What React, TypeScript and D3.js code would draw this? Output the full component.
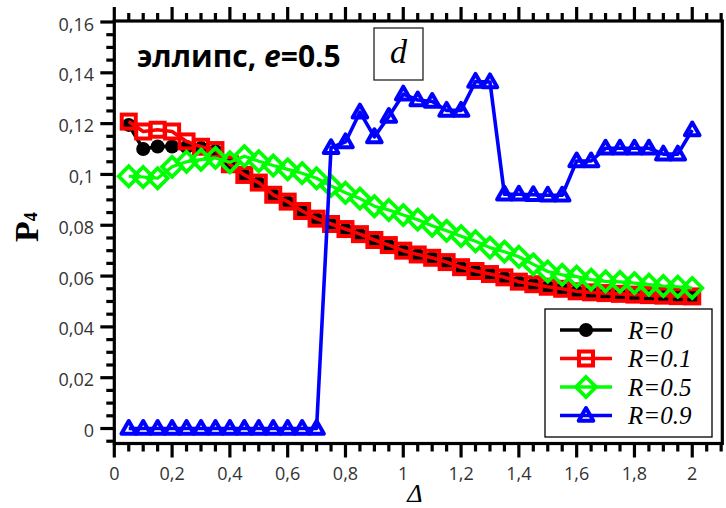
import React from "react";
import * as d3 from "d3";

const deltas = [0.05, 0.1, 0.15, 0.2, 0.25, 0.3, 0.35, 0.4, 0.45, 0.5, 0.55, 0.6, 0.65, 0.7, 0.75, 0.8, 0.85, 0.9, 0.95, 1.0,
  1.05, 1.1, 1.15, 1.2, 1.25, 1.3, 1.35, 1.4, 1.45, 1.5, 1.55, 1.6, 1.65, 1.7, 1.75, 1.8, 1.85, 1.9, 1.95, 2.0];

const r0 = [0.1195, 0.1100, 0.1110, 0.1110, 0.1108, 0.1104, 0.1092, 0.1037, 0.0996, 0.0966, 0.0918, 0.0891, 0.0854, 0.0824, 0.0803, 0.0783,
  0.0763, 0.0740, 0.0720, 0.0698, 0.0683, 0.0670, 0.0653, 0.0633, 0.0618, 0.0606, 0.0593, 0.0576, 0.0566, 0.0556, 0.0548, 0.0538,
  0.0534, 0.0530, 0.0527, 0.0524, 0.0522, 0.0520, 0.0519, 0.0518];

const r01 = [0.1208, 0.1169, 0.1176, 0.1169, 0.1130, 0.1109, 0.1096, 0.1040, 0.0998, 0.0968, 0.0920, 0.0893, 0.0856, 0.0826, 0.0805, 0.0785,
  0.0765, 0.0742, 0.0722, 0.0700, 0.0685, 0.0672, 0.0655, 0.0635, 0.0620, 0.0608, 0.0595, 0.0578, 0.0568, 0.0558, 0.0550, 0.0540,
  0.0536, 0.0533, 0.0530, 0.0527, 0.0525, 0.0523, 0.0521, 0.0520];

const r05 = [0.0993, 0.0990, 0.0985, 0.1030, 0.1050, 0.1058, 0.1065, 0.1048, 0.1072, 0.1052, 0.1035, 0.1020, 0.1005, 0.0985, 0.0955, 0.0928,
  0.0905, 0.0875, 0.0860, 0.0840, 0.0822, 0.0798, 0.0778, 0.0757, 0.0737, 0.0712, 0.0696, 0.0676, 0.0646, 0.0618, 0.0605, 0.0598,
  0.0586, 0.0579, 0.0577, 0.0572, 0.0566, 0.0561, 0.0558, 0.0553];

const r09 = [0, 0, 0, 0, 0, 0, 0, 0, 0, 0, 0, 0, 0, 0, 0.1105, 0.1128,
  0.1245, 0.1148, 0.1228, 0.1316, 0.1293, 0.1287, 0.1252, 0.1252, 0.1366, 0.1364, 0.0922, 0.0922, 0.0920, 0.0918, 0.0918, 0.1053,
  0.1053, 0.1103, 0.1103, 0.1103, 0.1103, 0.1080, 0.1080, 0.1175];

const seriesNames = ["R=0", "R=0.1", "R=0.5", "R=0.9"];
const xTickLabels = ["0", "0,2", "0,4", "0,6", "0,8", "1", "1,2", "1,4", "1,6", "1,8", "2"];
const yTickLabels = ["0", "0,02", "0,04", "0,06", "0,08", "0,1", "0,12", "0,14", "0,16"];

const W = 726, H = 508;
const x = d3.scaleLinear().domain([0, 2.104]).range([114.3, 722.3]);
const y = d3.scaleLinear().domain([-0.0057, 0.16]).range([443, 22]);

const colors = ["#000000", "#ff0000", "#00ff00", "#0000ff"];
const values = [r0, r01, r05, r09];

function Marker({ kind, color }: { kind: number; color: string }) {
  if (kind === 0) return <circle r={7} fill={color} />;
  if (kind === 1) return <rect x={-7} y={-7} width={14} height={14} fill="none" stroke={color} strokeWidth={4} />;
  if (kind === 2) return <path d="M0,-10L10,0L0,10L-10,0Z" fill="none" stroke={color} strokeWidth={3.8} />;
  return <path d="M0,-7.5L7.3,5.3L-7.3,5.3Z" fill="none" stroke={color} strokeWidth={4} strokeLinejoin="round" />;
}

export default function App() {
  const line = d3.line<number>().x((_, i) => x(deltas[i])).y((v) => y(v));
  const minorX = d3.range(0, 43).map((i) => i * 0.05);
  const minorY = d3.range(-1, 33).map((i) => i * 0.005);
  const tickFont = { fontFamily: "'Open Sans', sans-serif", fontSize: 18, fill: "#333" };
  const x0 = 114.3, x1 = 722.3, yTop = 21, yBot = 443.5;
  return (
    <svg width={W} height={H} style={{ position: "absolute", left: 0, top: 0, background: "#fff" }}>
      <rect width={W} height={H} fill="#fff" />
      {/* frame */}
      <rect x={x0} y={yTop} width={x1 - x0} height={yBot - yTop} fill="none" stroke="#000" strokeWidth={3.2} />
      {/* bottom & top ticks */}
      {minorX.map((v, i) => {
        const major = i % 4 === 0 && v <= 2.0001;
        const len = major ? 14 : 8;
        return (
          <g key={"xt" + i}>
            <line x1={x(v)} x2={x(v)} y1={yBot} y2={yBot + len} stroke="#000" strokeWidth={3.2} />
            <line x1={x(v)} x2={x(v)} y1={yTop} y2={yTop - len} stroke="#000" strokeWidth={3.2} />
          </g>
        );
      })}
      {/* left ticks */}
      {minorY.map((v, i) => {
        const major = (i - 1) % 4 === 0 && i >= 1;
        const len = major ? 14 : 8;
        return <line key={"yt" + i} x1={x0} x2={x0 - len} y1={y(v)} y2={y(v)} stroke="#000" strokeWidth={3.2} />;
      })}
      {xTickLabels.map((t, i) => (
        <text key={"xl" + i} x={x(i * 0.2)} y={480} textAnchor="middle" {...tickFont}>{t}</text>
      ))}
      {yTickLabels.map((t, i) => (
        <text key={"yl" + i} x={94} y={y(i * 0.02) + 8.5} textAnchor="end" {...tickFont}>{t}</text>
      ))}
      {/* axis titles */}
      <text transform="translate(38,242) rotate(-90)" fontFamily="'Liberation Serif', serif" fontWeight="bold" fontSize={34} fill="#000">
        P<tspan fontSize={18} dy={-1}>4</tspan>
      </text>
      <text x={415} y={502} textAnchor="middle" fontFamily="'Liberation Serif', serif" fontStyle="italic" fontSize={26} fill="#000">Δ</text>
      {/* series */}
      {values.map((vals, s) => (
        <g key={"s" + s}>
          <path d={line(vals) || ""} fill="none" stroke={colors[s]} strokeWidth={s === 2 ? 3.2 : 3.6} strokeLinejoin="round" />
          {vals.map((v, i) => (
            <g key={i} transform={`translate(${x(deltas[i])},${y(v)})`}>
              <Marker kind={s} color={colors[s]} />
            </g>
          ))}
        </g>
      ))}
      {/* title */}
      <text x={137} y={67} fontFamily="'Open Sans', sans-serif" fontWeight="bold" fontSize={30} fill="#000">
        эллипс, <tspan fontStyle="italic">e</tspan>=0.5
      </text>
      <rect x={374} y={28} width={49} height={52} fill="#fff" stroke="#222" strokeWidth={1.3} />
      <text x={398.5} y={63} textAnchor="middle" fontFamily="'Liberation Serif', serif" fontStyle="italic" fontSize={34} fill="#000">d</text>
      {/* legend */}
      <rect x={545} y={309} width={167} height={128} fill="#fff" stroke="#000" strokeWidth={1.3} />
      {seriesNames.map((n, s) => {
        const cy = 330 + s * 28.5;
        return (
          <g key={"lg" + s}>
            <line x1={560} x2={612} y1={cy} y2={cy} stroke={colors[s]} strokeWidth={3.6} />
            <g transform={`translate(586,${cy})`}><Marker kind={s} color={colors[s]} /></g>
            <text x={628} y={cy + 8.5} fontFamily="'Liberation Serif', serif" fontStyle="italic" fontSize={25} fill="#000">{n}</text>
          </g>
        );
      })}
    </svg>
  );
}
